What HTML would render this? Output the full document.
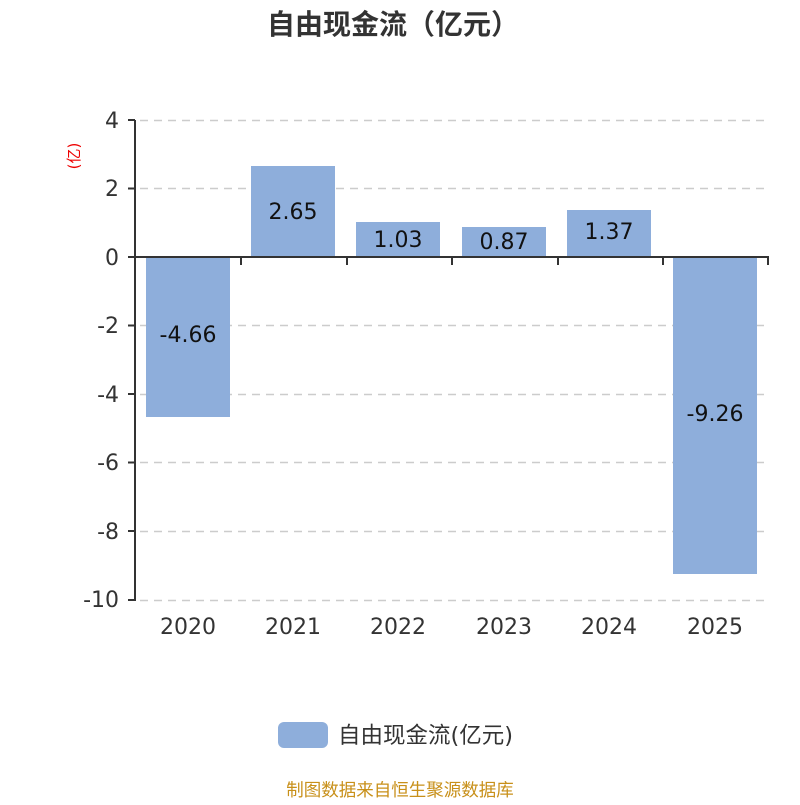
<!DOCTYPE html>
<html><head><meta charset="utf-8"><style>
body{margin:0;background:#fff}
svg text{font-family:"DejaVu Sans","Noto Sans CJK SC",sans-serif}
</style></head><body>
<svg width="800" height="800" xmlns="http://www.w3.org/2000/svg">
<text x="393" y="34" text-anchor="middle" font-size="28" font-weight="bold" fill="#333" style="font-family:'Liberation Sans','Noto Sans CJK SC',sans-serif">自由现金流（亿元）</text>
<g stroke="#ccc" stroke-dasharray="8,6" stroke-width="1.5">
<line x1="140" y1="120.5" x2="768" y2="120.5"/>
<line x1="140" y1="188.5" x2="768" y2="188.5"/>
<line x1="140" y1="325.5" x2="768" y2="325.5"/>
<line x1="140" y1="394.5" x2="768" y2="394.5"/>
<line x1="140" y1="462.5" x2="768" y2="462.5"/>
<line x1="140" y1="531.5" x2="768" y2="531.5"/>
<line x1="140" y1="600.5" x2="768" y2="600.5"/>
</g>
<g fill="#8eaedb">
<rect x="146" y="257" width="84" height="160"/>
<rect x="251" y="166" width="84" height="91"/>
<rect x="356" y="222" width="84" height="35"/>
<rect x="462" y="227" width="84" height="30"/>
<rect x="567" y="210" width="84" height="47"/>
<rect x="673" y="257" width="84" height="317"/>
</g>
<g stroke="#333" stroke-width="2">
<line x1="135" y1="120" x2="135" y2="601"/>
<line x1="134" y1="257" x2="769" y2="257"/>
<line x1="128" y1="120" x2="135" y2="120"/>
<line x1="128" y1="188.5" x2="135" y2="188.5"/>
<line x1="128" y1="257" x2="135" y2="257"/>
<line x1="128" y1="325.5" x2="135" y2="325.5"/>
<line x1="128" y1="394" x2="135" y2="394"/>
<line x1="128" y1="462.5" x2="135" y2="462.5"/>
<line x1="128" y1="531" x2="135" y2="531"/>
<line x1="128" y1="600" x2="135" y2="600"/>
<line x1="241" y1="257" x2="241" y2="265"/>
<line x1="347" y1="257" x2="347" y2="265"/>
<line x1="452" y1="257" x2="452" y2="265"/>
<line x1="558" y1="257" x2="558" y2="265"/>
<line x1="663" y1="257" x2="663" y2="265"/>
<line x1="768" y1="257" x2="768" y2="265"/>
</g>
<g font-size="22" fill="#333" text-anchor="end">
<text x="119" y="128">4</text><text x="119" y="196">2</text><text x="119" y="265">0</text>
<text x="119" y="333">-2</text><text x="119" y="402">-4</text><text x="119" y="470">-6</text>
<text x="119" y="539">-8</text><text x="119" y="607">-10</text>
</g>
<text transform="translate(79,156) rotate(-90)" text-anchor="middle" font-size="15" fill="#e00">(亿)</text>
<g font-size="22" fill="#333" text-anchor="middle">
<text x="188" y="634">2020</text><text x="293" y="634">2021</text><text x="398" y="634">2022</text>
<text x="504" y="634">2023</text><text x="609" y="634">2024</text><text x="715" y="634">2025</text>
</g>
<g font-size="22" fill="#111" text-anchor="middle">
<text x="188" y="342">-4.66</text><text x="293" y="219">2.65</text><text x="398" y="247">1.03</text>
<text x="504" y="249">0.87</text><text x="609" y="239">1.37</text><text x="715" y="421">-9.26</text>
</g>
<rect x="278" y="722" width="50" height="26" rx="6" fill="#8eaedb"/>
<text x="338" y="743" font-size="22.5" fill="#333">自由现金流(亿元)</text>
<text x="400" y="796" text-anchor="middle" font-size="17.5" fill="#c8901a">制图数据来自恒生聚源数据库</text>
</svg>
</body></html>
